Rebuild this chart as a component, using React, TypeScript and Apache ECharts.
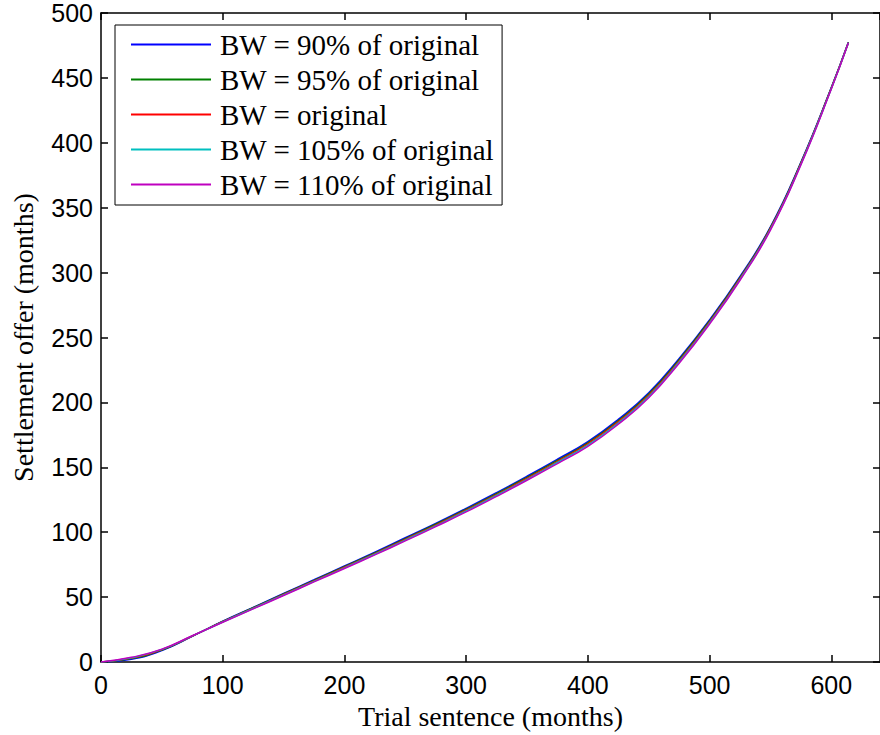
import React, { useEffect, useRef } from "react";
import * as echarts from "echarts";

const trialX = [0, 25, 50, 75, 100, 125, 150, 175, 200, 225, 250, 275, 300, 325, 350, 375, 400, 425, 450, 475, 500, 525, 550, 575, 600, 614];
const bw90 = [0, 2.2, 8.9, 19.8, 31.4, 42.1, 52.8, 63.4, 74.0, 84.6, 95.7, 106.8, 118.4, 130.5, 143.1, 156.2, 169.8, 186.9, 207.4, 233.8, 263.6, 297.0, 335.2, 385.0, 442.6, 477.4];
const bw95 = [0, 2.6, 9.2, 19.9, 31.2, 41.8, 52.4, 62.9, 73.5, 84.0, 95.1, 106.1, 117.7, 129.7, 142.3, 155.3, 168.9, 185.9, 206.4, 232.9, 262.8, 296.2, 334.6, 384.5, 442.3, 477.2];
const bwOrig = [0, 3.0, 9.5, 20.0, 31.0, 41.5, 52.0, 62.5, 73.0, 83.5, 94.5, 105.5, 117.0, 129.0, 141.5, 154.5, 168.0, 185.0, 205.5, 232.0, 262.0, 295.5, 334.0, 384.0, 442.0, 477.0];
const bw105 = [0, 3.3, 9.7, 20.1, 30.8, 41.2, 51.6, 62.1, 72.5, 83.0, 93.9, 104.9, 116.3, 128.3, 140.7, 153.7, 167.1, 184.1, 204.6, 231.1, 261.2, 294.8, 333.4, 383.5, 441.7, 476.9];
const bw110 = [0, 3.6, 9.9, 20.2, 30.6, 40.9, 51.2, 61.7, 72.0, 82.5, 93.3, 104.3, 115.6, 127.6, 140.0, 152.9, 166.2, 183.2, 203.6, 230.2, 260.4, 294.1, 332.8, 383.0, 441.4, 476.8];

const seriesNames = [
  "BW = 90% of original",
  "BW = 95% of original",
  "BW = original",
  "BW = 105% of original",
  "BW = 110% of original",
];
const seriesValues = [bw90, bw95, bwOrig, bw105, bw110];
const seriesColors = ["#0000ff", "#008000", "#ff0000", "#00bfbf", "#bf00bf"];

const X_MIN = 0;
const X_MAX = 640;
const X_STEP = 100;
const Y_MIN = 0;
const Y_MAX = 500;
const Y_STEP = 50;

export default function App() {
  const ref = useRef<HTMLDivElement>(null);
  useEffect(() => {
    document.body.style.margin = "0";
    if (!ref.current) return;
    const chart = echarts.init(ref.current, null, { renderer: "svg" });
    const sans = "Liberation Sans, Arial, sans-serif";
    const serif = "Liberation Serif, Times New Roman, serif";
    const axisLine = { show: true, onZero: false, lineStyle: { color: "#000", width: 1.5 } };
    const axisTick = { show: true, inside: true, length: 7, lineStyle: { color: "#000", width: 1.5 } };
    chart.setOption({
      animation: false,
      backgroundColor: "#fff",
      grid: { left: 101, top: 13, width: 787, height: 650, containLabel: false },
      legend: {
        orient: "vertical",
        left: 115,
        top: 25,
        width: 388,
        data: seriesNames,
        icon: "rect",
        itemWidth: 80,
        itemHeight: 2,
        itemGap: 0,
        padding: [2, 8, 3, 16],
        borderColor: "#000",
        borderWidth: 1,
        backgroundColor: "#fff",
        textStyle: {
          fontFamily: serif,
          fontSize: 29,
          lineHeight: 35,
          color: "#000",
          padding: [0, 0, 0, 4],
        },
      },
      xAxis: [
        {
          type: "value",
          min: X_MIN,
          max: X_MAX,
          interval: X_STEP,
          position: "bottom",
          name: "Trial sentence (months)",
          nameLocation: "middle",
          nameGap: 40,
          nameTextStyle: { fontFamily: serif, fontSize: 28, color: "#000" },
          axisLine,
          axisTick,
          splitLine: { show: false },
          axisLabel: { fontFamily: sans, fontSize: 25, color: "#000", margin: 10, showMaxLabel: false },
        },
        {
          type: "value",
          min: X_MIN,
          max: X_MAX,
          interval: X_STEP,
          position: "top",
          axisLine,
          axisTick,
          splitLine: { show: false },
          axisLabel: { show: false },
        },
      ],
      yAxis: [
        {
          type: "value",
          min: Y_MIN,
          max: Y_MAX,
          interval: Y_STEP,
          position: "left",
          name: "Settlement offer (months)",
          nameLocation: "middle",
          nameGap: 64,
          nameTextStyle: { fontFamily: serif, fontSize: 28, color: "#000" },
          axisLine,
          axisTick,
          splitLine: { show: false },
          axisLabel: { fontFamily: sans, fontSize: 25, color: "#000", margin: 8 },
        },
        {
          type: "value",
          min: Y_MIN,
          max: Y_MAX,
          interval: Y_STEP,
          position: "right",
          axisLine,
          axisTick,
          splitLine: { show: false },
          axisLabel: { show: false },
        },
      ],
      series: seriesNames.map((name, i) => ({
        name,
        type: "line",
        xAxisIndex: 0,
        yAxisIndex: 0,
        color: seriesColors[i],
        showSymbol: false,
        symbol: "none",
        smooth: 0.5,
        lineStyle: { color: seriesColors[i], width: 1.5 },
        data: trialX.map((x, j) => [x, seriesValues[i][j]]),
      })),
    });
    return () => chart.dispose();
  }, []);
  return <div ref={ref} style={{ width: 880, height: 735 }} />;
}
